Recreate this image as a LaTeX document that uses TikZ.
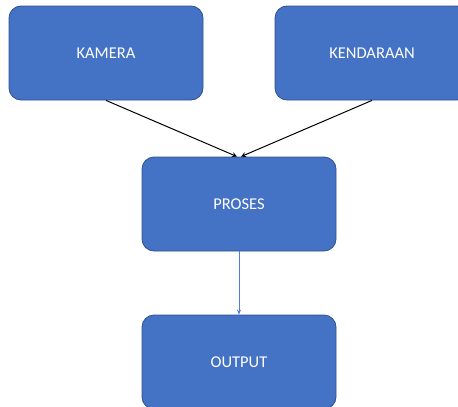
\documentclass[tikz,border=0pt]{standalone}
\usepackage{fontspec}
\setmainfont{Carlito}
\usetikzlibrary{arrows.meta,calc}
\definecolor{boxfill}{HTML}{4472C4}
\definecolor{boxline}{HTML}{2F528F}
\definecolor{linkblue}{HTML}{4A7FE0}
\tikzset{
  blockbox/.style={draw=boxline, line width=0.8pt, fill=boxfill, rounded corners=12pt,
    minimum width=194pt, minimum height=94pt, inner sep=0pt, text=white,
    font=\fontsize{16.5}{19}\selectfont},
  blackarrow/.style={draw=black, line width=1pt, -{Stealth[length=5pt,width=5pt]}},
  bluearrow/.style={draw=linkblue, line width=1pt, -{Stealth[length=5pt,width=4pt]}}
}
\begin{document}
\begin{tikzpicture}[x=1pt,y=-1pt]
\useasboundingbox (0,0) rectangle (458,407);
\node[blockbox] (kamera) at (106,53) {KAMERA};
\node[blockbox] (kendaraan) at (372,53) {KENDARAAN};
\node[blockbox] (proses) at (239,204) {PROSES};
\node[blockbox] (output) at (239,362) {OUTPUT};
\draw[blackarrow] (kamera.south) -- ($(proses.north)+(-2,0)$);
\draw[blackarrow] (kendaraan.south) -- ($(proses.north)+(2,0)$);
\draw[bluearrow] (proses.south) -- (output.north);
\end{tikzpicture}
\end{document}
